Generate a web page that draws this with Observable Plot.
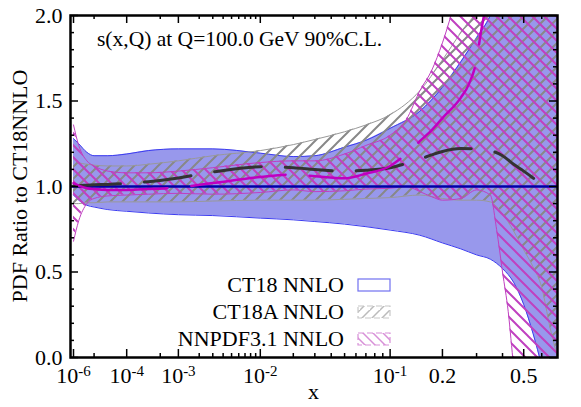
<!DOCTYPE html>
<html><head><meta charset="utf-8">
<script src="https://cdn.jsdelivr.net/npm/d3@7"></script>
<script src="https://cdn.jsdelivr.net/npm/@observablehq/plot@0.6"></script>
<style>body{margin:0;background:#fff;} svg{display:block}</style>
</head><body><div id="chart"></div>
<script>
// ---- data ----
const ctX  = [1e-6, 2e-6, 5e-6, 1e-5, 3e-5, 1e-4, 3e-4, 1e-3, 3e-3, 1e-2, 2e-2, 3e-2, 5e-2, 7e-2, 0.1, 0.15, 0.2, 0.25, 0.3, 0.35, 0.4, 0.45, 0.5, 0.55, 0.6, 0.65, 0.7];
const ctHi = [1.28, 1.25, 1.20, 1.18, 1.18, 1.19, 1.21, 1.22, 1.22, 1.195, 1.175, 1.18, 1.23, 1.27, 1.34, 1.44, 1.58, 1.73, 1.87, 2.0, 2.2, 2.4, 2.6, 2.8, 3.0, 3.2, 3.4];
const ctLo = [0.95, 0.92, 0.89, 0.88, 0.865, 0.855, 0.845, 0.835, 0.83, 0.815, 0.805, 0.795, 0.78, 0.765, 0.745, 0.715, 0.67, 0.635, 0.60, 0.575, 0.52, 0.44, 0.31, 0.14, -0.05, -0.25, -0.4];

const aX  = [1e-6, 2e-6, 5e-6, 1e-5, 3e-5, 1e-4, 3e-4, 1e-3, 3e-3, 1e-2, 2e-2, 3e-2, 5e-2, 7e-2, 0.1, 0.15, 0.2, 0.25, 0.3, 0.35, 0.4, 0.45, 0.5, 0.55, 0.6, 0.65, 0.7];
const aHi = [1.16, 1.14, 1.13, 1.125, 1.12, 1.12, 1.13, 1.15, 1.18, 1.21, 1.245, 1.275, 1.32, 1.36, 1.42, 1.56, 1.74, 1.90, 2.02, 2.15, 2.3, 2.5, 2.7, 2.9, 3.1, 3.3, 3.5];
const aLo = [0.90, 0.90, 0.905, 0.905, 0.91, 0.91, 0.91, 0.91, 0.915, 0.92, 0.92, 0.92, 0.925, 0.93, 0.935, 0.95, 0.93, 0.92, 0.92, 0.91, 0.84, 0.74, 0.63, 0.53, 0.41, 0.18, 0.0];
const aMidX = [1e-6, 2e-6, 5e-6, 1e-5, 3e-5, 1e-4, 3e-4, 1e-3, 3e-3, 1e-2, 2e-2, 3e-2, 5e-2, 7e-2, 0.1, 0.125, 0.15, 0.175, 0.2, 0.25, 0.3, 0.35, 0.4, 0.45, 0.5, 0.55, 0.6];
const aMid  = [1.005, 1.005, 1.008, 1.01, 1.012, 1.018, 1.028, 1.05, 1.085, 1.115, 1.11, 1.10, 1.09, 1.095, 1.11, 1.135, 1.16, 1.185, 1.205, 1.222, 1.22, 1.21, 1.18, 1.13, 1.09, 1.05, 1.01];

const nX  = [1e-6, 2e-6, 5e-6, 1e-5, 3e-5, 1e-4, 3e-4, 1e-3, 3e-3, 1e-2, 2e-2, 3e-2, 5e-2, 7e-2, 0.1, 0.125, 0.15, 0.175, 0.2, 0.25, 0.3, 0.35, 0.375, 0.4, 0.425, 0.45, 0.5, 0.6, 0.7];
const nHi = [1.36, 1.24, 1.15, 1.12, 1.09, 1.08, 1.08, 1.09, 1.11, 1.14, 1.15, 1.15, 1.19, 1.24, 1.30, 1.39, 1.56, 1.68, 1.84, 2.2, 2.5, 2.8, 3.0, 3.2, 3.4, 3.6, 4.0, 4.5, 5.0];
const nLo = [0.68, 0.80, 0.90, 0.93, 0.945, 0.95, 0.955, 0.96, 0.955, 0.965, 0.98, 0.97, 0.975, 0.985, 0.99, 1.0, 0.97, 0.94, 0.92, 0.93, 0.98, 0.95, 0.75, 0.5, 0.27, -0.05, -0.5, -1.0, -1.5];
const nMidX = [1e-6, 2e-6, 5e-6, 1e-5, 3e-5, 1e-4, 3e-4, 1e-3, 3e-3, 1e-2, 2e-2, 3e-2, 5e-2, 7e-2, 0.1, 0.125, 0.15, 0.175, 0.2, 0.25, 0.275, 0.3, 0.315, 0.33];
const nMid  = [1.02, 1.005, 0.99, 0.985, 0.98, 0.98, 0.985, 0.995, 1.02, 1.055, 1.07, 1.06, 1.048, 1.075, 1.12, 1.19, 1.265, 1.33, 1.40, 1.52, 1.60, 1.74, 1.9, 2.03];

const ctCentral = [1];

const xLabelTicks = [1e-6, 1e-4, 1e-3, 1e-2, 1e-1, 0.2, 0.5];
const xMinorTicks = [1e-5, 5e-4, 2e-3, 3e-3, 4e-3, 5e-3, 6e-3, 7e-3, 8e-3, 9e-3,
                     2e-2, 3e-2, 4e-2, 5e-2, 6e-2, 7e-2, 8e-2, 9e-2, 0.3, 0.4, 0.6];
const yLabelTicks = [0, 0.5, 1.0, 1.5, 2.0];
const yMinorTicks = [0.1, 0.2, 0.3, 0.4, 0.6, 0.7, 0.8, 0.9, 1.1, 1.2, 1.3, 1.4, 1.6, 1.7, 1.8, 1.9];

const title = "s(x,Q) at Q=100.0 GeV 90%C.L.";
const yTitle = "PDF Ratio to CT18NNLO";
const xTitle = "x";
const legendNames = ["CT18 NNLO", "CT18A NNLO", "NNPDF3.1 NNLO"];

// ---- tables ----
const ct = ctX.map((x, i) => ({x, lo: ctLo[i], hi: ctHi[i]}));
const ca = aX.map((x, i) => ({x, lo: aLo[i], hi: aHi[i]}));
const caMid = aMidX.map((x, i) => ({x, y: aMid[i]}));
const nn = nX.map((x, i) => ({x, lo: nLo[i], hi: nHi[i]}));
const nnMid = nMidX.map((x, i) => ({x, y: nMid[i]}));

const W = 581, H = 407, mL = 70, mR = 24, mT = 15, mB = 50;
const fw = W - mL - mR, fh = H - mT - mB;
const curve = "monotone-x";
const FONT = "'Liberation Serif','Times New Roman',serif";

const plot = Plot.plot({
  width: W, height: H,
  marginLeft: mL, marginRight: mR, marginTop: mT, marginBottom: mB,
  style: {fontFamily: FONT, fontSize: "22px", color: "black", background: "white"},
  x: {type: "pow", exponent: 0.2, domain: [6.4e-7, 0.7]},
  y: {domain: [0, 2]},
  marks: [
    Plot.areaY(ct, {x: "x", y1: "lo", y2: "hi", fill: "#9898ec", curve, clip: true}),
    Plot.line(ct, {x: "x", y: "hi", stroke: "#3c3cf0", strokeWidth: 1, curve, clip: true}),
    Plot.line(ct, {x: "x", y: "lo", stroke: "#3c3cf0", strokeWidth: 1, curve, clip: true}),
    Plot.areaY(ca, {x: "x", y1: "lo", y2: "hi", fill: "url(#hatchGrey)", curve, clip: true}),
    Plot.line(ca, {x: "x", y: "hi", stroke: "#999", strokeWidth: 1, curve, clip: true}),
    Plot.line(ca, {x: "x", y: "lo", stroke: "#999", strokeWidth: 1, curve, clip: true}),
    Plot.areaY(nn, {x: "x", y1: "lo", y2: "hi", fill: "url(#hatchMag)", curve, clip: true}),
    Plot.line(nn, {x: "x", y: "hi", stroke: "#c040c0", strokeWidth: 1, curve, clip: true}),
    Plot.line(nn, {x: "x", y: "lo", stroke: "#c040c0", strokeWidth: 1, curve, clip: true}),
    Plot.ruleY(ctCentral, {stroke: "#0000a8", strokeWidth: 2.5}),
    Plot.line(caMid, {x: "x", y: "y", stroke: "#333", strokeWidth: 3, strokeDasharray: "47,24", curve, clip: true}),
    Plot.line(nnMid, {x: "x", y: "y", stroke: "#c000c0", strokeWidth: 2.5, strokeDasharray: "95,24", curve, clip: true}),
    // inward ticks
    Plot.tickX(xLabelTicks, {x: d => d, insetTop: fh - 8, stroke: "black", strokeWidth: 1.5}),
    Plot.tickX(xLabelTicks, {x: d => d, insetBottom: fh - 8, stroke: "black", strokeWidth: 1.5}),
    Plot.tickX(xMinorTicks, {x: d => d, insetTop: fh - 4, stroke: "black", strokeWidth: 1.5}),
    Plot.tickX(xMinorTicks, {x: d => d, insetBottom: fh - 4, stroke: "black", strokeWidth: 1.5}),
    Plot.tickY(yLabelTicks, {y: d => d, insetRight: fw - 8, stroke: "black", strokeWidth: 1.5}),
    Plot.tickY(yLabelTicks, {y: d => d, insetLeft: fw - 8, stroke: "black", strokeWidth: 1.5}),
    Plot.tickY(yMinorTicks, {y: d => d, insetRight: fw - 4, stroke: "black", strokeWidth: 1.5}),
    Plot.tickY(yMinorTicks, {y: d => d, insetLeft: fw - 4, stroke: "black", strokeWidth: 1.5}),
    Plot.frame({stroke: "black", strokeWidth: 2.5}),
    Plot.axisX({ticks: xLabelTicks, tickSize: 0, tickPadding: 10, label: null,
      tickFormat: d => d >= 0.15 ? String(d) : "10^" + Math.round(Math.log10(d))}),
    Plot.axisY({ticks: yLabelTicks, tickSize: 0, tickPadding: 8, label: null,
      tickFormat: d => d.toFixed(1)})
  ]
});

const svg = d3.select(plot);
svg.insert("defs", ":first-child").html(`
  <pattern id="hatchGrey" patternUnits="userSpaceOnUse" width="12" height="12">
    <path d="M-3,3 l6,-6 M0,12 l12,-12 M9,15 l6,-6" stroke="#888" stroke-width="2"/>
  </pattern>
  <pattern id="hatchMag" patternUnits="userSpaceOnUse" width="12" height="12">
    <path d="M-3,9 l6,6 M0,0 l12,12 M9,-3 l6,6" stroke="#c040c0" stroke-width="2"/>
  </pattern>
  <pattern id="legGrey" patternUnits="userSpaceOnUse" width="10" height="10">
    <path d="M-3,3 l6,-6 M0,10 l10,-10 M8,13 l5,-5" stroke="#bbb" stroke-width="1.5"/>
  </pattern>
  <pattern id="legMag" patternUnits="userSpaceOnUse" width="10" height="10">
    <path d="M-3,7 l6,6 M0,0 l10,10 M7,-3 l6,6" stroke="#d890d8" stroke-width="1.5"/>
  </pattern>`);

// superscripts on x tick labels
svg.selectAll('[aria-label="x-axis tick label"] text').each(function() {
  const t = this.textContent;
  if (t.includes("^")) {
    const [b, e] = t.split("^");
    const el = d3.select(this);
    el.text(null);
    el.append("tspan").text(b);
    el.append("tspan").attr("dy", "-0.45em").attr("font-size", "15px").text(e);
  }
});

const g = svg.append("g").attr("font-family", FONT).attr("fill", "black");
g.append("text").attr("x", 97).attr("y", 46).attr("text-anchor", "start")
  .attr("font-size", "21.5px").text(title);
g.append("text").attr("transform", `translate(19,${mT + fh / 2}) rotate(-90)`)
  .attr("text-anchor", "middle").attr("dy", "0.35em").attr("font-size", "22px").text(yTitle);
g.append("text").attr("x", mL + fw / 2).attr("y", 399).attr("text-anchor", "middle")
  .attr("font-size", "22px").text(xTitle);

const legY = [292, 319, 346];
const legFill = ["white", "url(#legGrey)", "url(#legMag)"];
const legStroke = ["#7070f0", "#c8c8c8", "#d890d8"];
const legDash = [null, "6,3", "6,3"];
legendNames.forEach((name, i) => {
  g.append("text").attr("x", 344).attr("y", legY[i]).attr("text-anchor", "end")
    .attr("font-size", "22px").text(name);
  g.append("rect").attr("x", 358).attr("y", legY[i] - 13).attr("width", 32).attr("height", 12)
    .attr("fill", legFill[i]).attr("stroke", legStroke[i]).attr("stroke-width", 1.2)
    .attr("stroke-dasharray", legDash[i]);
});

document.getElementById("chart").appendChild(plot);
</script>
</body></html>
